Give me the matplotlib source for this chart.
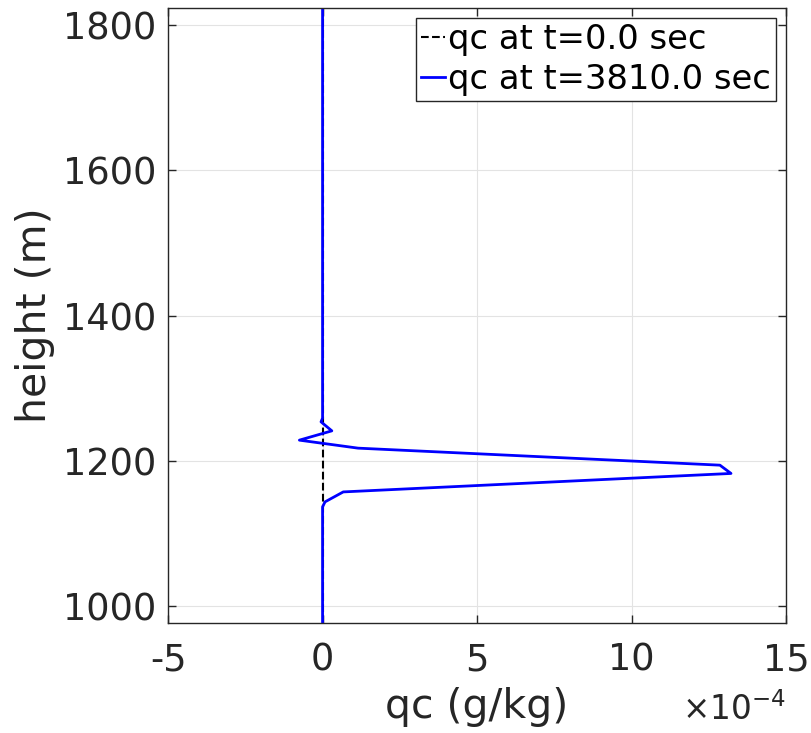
import matplotlib
matplotlib.use('Agg')
import matplotlib.pyplot as plt
import matplotlib.transforms as mtransforms
from matplotlib.ticker import ScalarFormatter

# profile heights (m), bottom to top
height = [977, 1136.8, 1143.7, 1157.4, 1182.8, 1194.2, 1217.6,
          1228.6, 1241.4, 1253.8, 1258.9, 1823]
# cloud water (g/kg)
qc_start = [0, 0, 0, 0, 0, 0, 0, 0, 0, 0, 0, 0]
qc_end = [0, 0, 0.08e-4, 0.67e-4, 13.22e-4, 12.86e-4, 1.15e-4,
          -0.75e-4, 0.30e-4, -0.05e-4, 0, 0]
labels = ['qc at t=0.0 sec', 'qc at t=3810.0 sec']


class PlainSciFormatter(ScalarFormatter):
    """Plain tick text (hyphen minus), math-text offset."""

    def __call__(self, x, pos=None):
        s = super().__call__(x, pos)
        return s.replace('$\\mathdefault{', '').replace('}$', '')


def main():
    plt.rcParams['font.family'] = 'DejaVu Sans'
    plt.rcParams['axes.unicode_minus'] = False
    plt.rcParams['mathtext.fontset'] = 'dejavusans'

    fig = plt.figure(figsize=(8.12, 7.33), dpi=100)
    ax = fig.add_axes([0.207, 0.150, 0.761, 0.839])

    ax.plot(qc_start, height, 'k--', lw=1.5, label=labels[0])
    ax.plot(qc_end, height, color='#0000ff', lw=2.0, label=labels[1])

    ax.set_xlim(-5e-4, 15e-4)
    ax.set_ylim(977, 1823)
    ax.set_xticks([-5e-4, 0, 5e-4, 10e-4, 15e-4])
    ax.set_yticks([1000, 1200, 1400, 1600, 1800])
    fmt = PlainSciFormatter(useMathText=True)
    fmt.set_powerlimits((-4, -4))
    ax.xaxis.set_major_formatter(fmt)

    ax.grid(True, color='#e3e3e3', lw=0.8)
    ax.set_axisbelow(True)
    for sp in ax.spines.values():
        sp.set_color('#262626')
        sp.set_linewidth(1.0)
    ax.tick_params(direction='in', top=True, right=True, length=6,
                   width=1.0, color='#262626', labelsize=26.5,
                   labelcolor='#262626')
    ax.tick_params(axis='x', pad=13.5)
    ax.tick_params(axis='y', pad=8.5)

    # x10^-4 multiplier, pushed down below the tick labels
    off = ax.xaxis.get_offset_text()
    off.set_fontsize(23.5)
    off.set_color('#262626')
    off.set_transform(off.get_transform() + mtransforms.ScaledTranslation(
        0, -0.09, fig.dpi_scale_trans))

    ax.set_xlabel('qc (g/kg)', fontsize=29.5, color='#262626', va='center')
    ax.xaxis.set_label_coords(476.5 / 812, 1 - 707 / 733,
                              transform=fig.transFigure)
    ax.set_ylabel('height (m)', fontsize=29.5, color='#262626', va='center')
    ax.yaxis.set_label_coords(35 / 812, 1 - 315 / 733,
                              transform=fig.transFigure)

    leg = ax.legend(loc='upper right', fontsize=24.3, handlelength=0.7,
                    handletextpad=0.1, borderpad=0.15, labelspacing=0.2,
                    borderaxespad=0.3, fancybox=False, framealpha=1)
    leg.get_frame().set_edgecolor('#262626')
    leg.get_frame().set_linewidth(1.0)

    fig.savefig('out.png', dpi=100)


if __name__ == '__main__':
    main()
